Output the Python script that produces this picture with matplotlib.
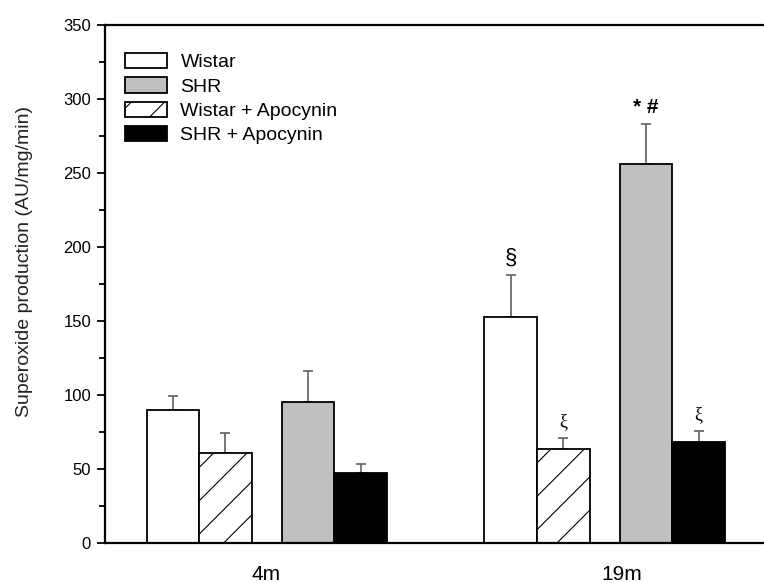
import matplotlib
matplotlib.use('Agg')
import matplotlib.pyplot as plt
from matplotlib.ticker import MultipleLocator

plt.rcParams['font.family'] = ['Liberation Sans', 'DejaVu Sans']
plt.rcParams['hatch.linewidth'] = 0.8

# Data
groups = ['4m', '19m']
series = ['Wistar', 'Wistar + Apocynin', 'SHR', 'SHR + Apocynin']
means = {
    'Wistar': [90, 153],
    'Wistar + Apocynin': [60.5, 63.5],
    'SHR': [95, 256],
    'SHR + Apocynin': [47.5, 68.5],
}
errors = {
    'Wistar': [9.5, 28],
    'Wistar + Apocynin': [14, 7.7],
    'SHR': [21, 27],
    'SHR + Apocynin': [5.7, 7.4],
}
# significance marks: (series, group index, text)
marks = [('Wistar', 1, '§'), ('SHR', 1, '* #'),
         ('Wistar + Apocynin', 1, 'ξ'), ('SHR + Apocynin', 1, 'ξ')]
legend_order = ['Wistar', 'SHR', 'Wistar + Apocynin', 'SHR + Apocynin']

# Layout
group_pos = [0, 6.42]
label_pos = [0, 6.76]
offsets = {'Wistar': -1.78, 'Wistar + Apocynin': -0.78,
           'SHR': 0.79, 'SHR + Apocynin': 1.79}
styles = {
    'Wistar': dict(color='white', hatch=None),
    'Wistar + Apocynin': dict(color='white', hatch='/'),
    'SHR': dict(color='#c0c0c0', hatch=None),
    'SHR + Apocynin': dict(color='black', hatch=None),
}

fig = plt.figure(figsize=(7.64, 5.83), dpi=100)
ax = fig.add_axes([105 / 764, 40 / 583, 1 - 105 / 764 + 0.01, 518 / 583])

bars = {}
for s in series:
    xs = [g + offsets[s] for g in group_pos]
    b = ax.bar(xs, means[s], width=1.0, color=styles[s]['color'],
               hatch=styles[s]['hatch'], edgecolor='black', linewidth=1.3,
               label=s, zorder=2)
    ax.errorbar(xs, means[s], yerr=[[0, 0], errors[s]], fmt='none',
                ecolor='#606060', elinewidth=1.2, capsize=3.6, capthick=1.2,
                zorder=1)
    bars[s] = b

for s, gi, txt in marks:
    x = group_pos[gi] + offsets[s]
    top = means[s][gi] + errors[s][gi]
    if txt == 'ξ':
        ax.text(x, top + 5, txt, ha='center', va='bottom', fontsize=13,
                family=['Liberation Serif', 'DejaVu Serif'])
    elif txt == '§':
        ax.text(x, top + 4, txt, ha='center', va='bottom', fontsize=16)
    else:
        ax.text(x, top + 5, txt, ha='center', va='bottom', fontsize=15,
                fontweight='bold')

ax.set_xlim(-3.07, 9.6)
ax.set_ylim(0, 350)
ax.yaxis.set_major_locator(MultipleLocator(50))
ax.yaxis.set_minor_locator(MultipleLocator(25))
ax.tick_params(axis='y', which='major', length=6, width=1.3, labelsize=12, pad=4)
ax.tick_params(axis='y', which='minor', length=4, width=1.3)
ax.set_xticks(label_pos)
ax.set_xticklabels(groups, fontsize=15)
ax.tick_params(axis='x', length=0, pad=16)

for sp in ['left', 'bottom', 'top']:
    ax.spines[sp].set_linewidth(1.6)
ax.spines['right'].set_visible(False)

ax.set_ylabel('Superoxide production (AU/mg/min)', fontsize=14, color='#222222')
ax.yaxis.set_label_coords(-0.108, 0.544)

handles = [bars[s] for s in legend_order]
ax.legend(handles, legend_order, loc='upper left', bbox_to_anchor=(0.03, 0.946),
          frameon=False, fontsize=14, handlelength=2.15, handleheight=0.85,
          labelspacing=0.3, handletextpad=0.7, borderaxespad=0, borderpad=0)

fig.savefig('out.png', dpi=100)
